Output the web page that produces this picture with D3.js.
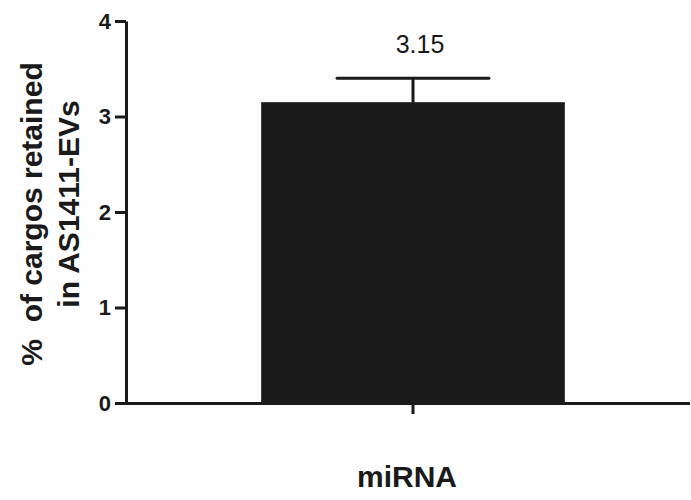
<!DOCTYPE html>
<html>
<head>
<meta charset="utf-8">
<script src="https://cdn.jsdelivr.net/npm/d3@7"></script>
<style>
  body { margin: 0; background: #fefefe; }
  svg { display: block; font-family: "Liberation Sans", Arial, sans-serif; }
</style>
</head>
<body>
<svg id="chart" width="691" height="500"></svg>
<script>
// data
const categories = ["miRNA"]
const means = [3.15]
const errors = [0.25]
const valueLabels = ["3.15"]
const yTicks = [0, 1, 2, 3, 4]
const yLabelLines = ["%  of cargos retained", "in AS1411-EVs"]

const width = 691
const height = 500
const ink = "#1a1a1a"

const svg = d3.select("#chart")

svg.append("rect")
    .attr("width", width)
    .attr("height", height)
    .attr("fill", "#fefefe")

const y = d3.scaleLinear()
    .domain([0, 4])
    .range([403, 21])

const x = d3.scaleBand()
    .domain(categories)
    .range([126, 700])
    .padding(0.308)

// bars
svg.selectAll("rect.bar")
  .data(categories)
  .join("rect")
    .attr("class", "bar")
    .attr("x", d => x(d))
    .attr("width", x.bandwidth())
    .attr("y", (d, i) => y(means[i]))
    .attr("height", (d, i) => y(0) - y(means[i]))
    .attr("fill", ink)

// error bars (upper only)
const capHalf = x.bandwidth() * 0.25
const errG = svg.selectAll("g.err")
  .data(categories)
  .join("g")
    .attr("class", "err")
    .attr("stroke", ink)
    .attr("stroke-width", 3)
    .attr("stroke-linecap", "round")

errG.append("line")
    .attr("x1", d => x(d) + x.bandwidth() / 2)
    .attr("x2", d => x(d) + x.bandwidth() / 2)
    .attr("y1", (d, i) => y(means[i]))
    .attr("y2", (d, i) => y(means[i] + errors[i]))

errG.append("line")
    .attr("x1", d => x(d) + x.bandwidth() / 2 - capHalf)
    .attr("x2", d => x(d) + x.bandwidth() / 2 + capHalf)
    .attr("y1", (d, i) => y(means[i] + errors[i]))
    .attr("y2", (d, i) => y(means[i] + errors[i]))

// value labels
svg.selectAll("text.value")
  .data(categories)
  .join("text")
    .attr("class", "value")
    .attr("x", d => x(d) + x.bandwidth() / 2 + 7)
    .attr("y", (d, i) => y(means[i] + errors[i]) - 25)
    .attr("text-anchor", "middle")
    .attr("font-size", 25)
    .attr("fill", ink)
    .text((d, i) => valueLabels[i])

// y axis
const yAxis = svg.append("g")
    .attr("transform", `translate(${x.range()[0]},0)`)
    .call(d3.axisLeft(y).tickValues(yTicks).tickFormat(d3.format("d"))
      .tickSize(11).tickSizeOuter(0).tickPadding(4))
yAxis.select(".domain").attr("stroke", ink).attr("stroke-width", 3)
yAxis.selectAll(".tick line").attr("stroke", ink).attr("stroke-width", 3)
yAxis.selectAll(".tick text")
    .attr("font-size", 22)
    .attr("font-weight", "bold")
    .attr("font-family", "Liberation Sans, Arial, sans-serif")
    .attr("fill", ink)

// x axis
const xAxis = svg.append("g")
    .attr("transform", `translate(0,${y(0)})`)
    .call(d3.axisBottom(x).tickSize(11).tickSizeOuter(0).tickPadding(52))
xAxis.select(".domain")
    .attr("d", `M${x.range()[0] - 1.5},0.5H690`)
    .attr("stroke", ink)
    .attr("stroke-width", 3)
xAxis.selectAll(".tick line").attr("stroke", ink).attr("stroke-width", 3)
xAxis.selectAll(".tick text")
    .attr("font-size", 30)
    .attr("font-weight", "bold")
    .attr("font-family", "Liberation Sans, Arial, sans-serif")
    .attr("dx", -6)
    .attr("fill", ink)

// y axis title
svg.append("g")
    .attr("transform", "translate(42,214) rotate(-90)")
  .selectAll("text")
  .data(yLabelLines)
  .join("text")
    .attr("x", (d, i) => i === 0 ? 0 : 10)
    .attr("y", (d, i) => i * 37)
    .attr("text-anchor", "middle")
    .attr("font-size", 30)
    .attr("font-weight", "bold")
    .attr("fill", ink)
    .style("white-space", "pre")
    .text(d => d)
</script>
</body>
</html>
